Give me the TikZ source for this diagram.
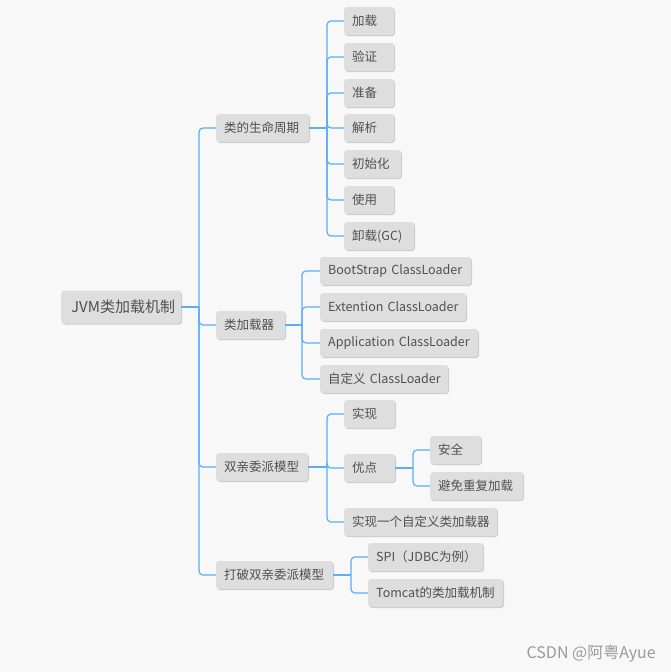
\documentclass[tikz,border=0pt]{standalone}
\usepackage{fontspec}
\setmainfont{Noto Sans CJK SC}
\usetikzlibrary{shadows}
\definecolor{bgc}{HTML}{F8F8F8}
\definecolor{boxc}{HTML}{DEDEDE}
\definecolor{shc}{HTML}{CCCCCC}
\definecolor{txtc}{HTML}{505050}
\definecolor{linec}{HTML}{5AAEF8}
\definecolor{wmc}{HTML}{9A9A9A}
\tikzset{
  mbox/.style={fill=boxc, rounded corners=3pt, text=txtc, inner xsep=8pt, inner ysep=0pt,
    minimum height=28pt, anchor=west, font=\fontsize{12.5}{14}\selectfont,
    text width=#1-16pt, align=left,
    drop shadow={shadow xshift=0.8pt, shadow yshift=-1pt, fill=shc, opacity=1}},
  rootbox/.style={mbox=#1, minimum height=33pt, inner xsep=10pt, text width=#1-20pt, font=\fontsize{15}{17}\selectfont},
  conn/.style={draw=linec, line width=1.2pt, rounded corners=4pt},
}
\begin{document}
\begin{tikzpicture}[x=1pt,y=-1pt]
\fill[bgc] (0,0) rectangle (671,672);
\useasboundingbox (0,0) rectangle (671,672);
% nodes
\node[rootbox=120pt] (root) at (61,307) {\mbox{JVM类加载机制}};
\node[mbox=93pt] (life) at (216,128) {\mbox{类的生命周期}};
\node[mbox=69pt] (loader) at (216,325) {\mbox{类加载器}};
\node[mbox=92pt] (parent) at (216,467) {\mbox{双亲委派模型}};
\node[mbox=117pt] (break) at (216,575) {\mbox{打破双亲委派模型}};
\node[mbox=50pt] (l1) at (344,21) {\mbox{加载}};
\node[mbox=50pt] (l2) at (344,57) {\mbox{验证}};
\node[mbox=50pt] (l3) at (344,93) {\mbox{准备}};
\node[mbox=50pt] (l4) at (344,128) {\mbox{解析}};
\node[mbox=57pt] (l5) at (344,164) {\mbox{初始化}};
\node[mbox=50pt] (l6) at (344,200) {\mbox{使用}};
\node[mbox=70pt] (l7) at (344,236) {\mbox{卸载(GC)}};
\node[mbox=151pt] (c1) at (320,271) {\mbox{BootStrap ClassLoader}};
\node[mbox=146pt] (c2) at (320,307) {\mbox{Extention ClassLoader}};
\node[mbox=158pt] (c3) at (320,343) {\mbox{Application ClassLoader}};
\node[mbox=128pt] (c4) at (320,379) {\mbox{自定义 ClassLoader}};
\node[mbox=51pt] (p1) at (344,414) {\mbox{实现}};
\node[mbox=51pt] (p2) at (344,468) {\mbox{优点}};
\node[mbox=153pt] (p3) at (344,522) {\mbox{实现一个自定义类加载器}};
\node[mbox=51pt] (q1) at (430,450) {\mbox{安全}};
\node[mbox=93pt] (q2) at (430,486) {\mbox{避免重复加载}};
\node[mbox=115pt] (b1) at (368,557) {\mbox{SPI（JDBC为例）}};
\node[mbox=135pt] (b2) at (368,593) {\mbox{Tomcat的类加载机制}};
% branch points
\coordinate (jr) at (199,307);
\coordinate (jl) at (327,128);
\coordinate (jc) at (302,325);
\coordinate (jp) at (327,467);
\coordinate (jq) at (413,468);
\coordinate (jb) at (351,575);
% connectors
\draw[conn] (root.east) -- (jr);
\foreach \n in {life,loader,parent,break} \draw[conn] (jr) |- (\n.west);
\draw[conn] (life.east) -- (jl);
\foreach \n in {l1,l2,l3,l4,l5,l6,l7} \draw[conn] (jl) |- (\n.west);
\draw[conn] (loader.east) -- (jc);
\foreach \n in {c1,c2,c3,c4} \draw[conn] (jc) |- (\n.west);
\draw[conn] (parent.east) -- (jp);
\foreach \n in {p1,p2,p3} \draw[conn] (jp) |- (\n.west);
\draw[conn] (p2.east) -- (jq);
\foreach \n in {q1,q2} \draw[conn] (jq) |- (\n.west);
\draw[conn] (break.east) -- (jb);
\foreach \n in {b1,b2} \draw[conn] (jb) |- (\n.west);
% watermark
\node[anchor=east, text=wmc, font=\fontsize{16}{18}\selectfont, inner sep=0pt] (wm) at (656,654) {CSDN @阿粤Ayue};
\end{tikzpicture}
\end{document}
